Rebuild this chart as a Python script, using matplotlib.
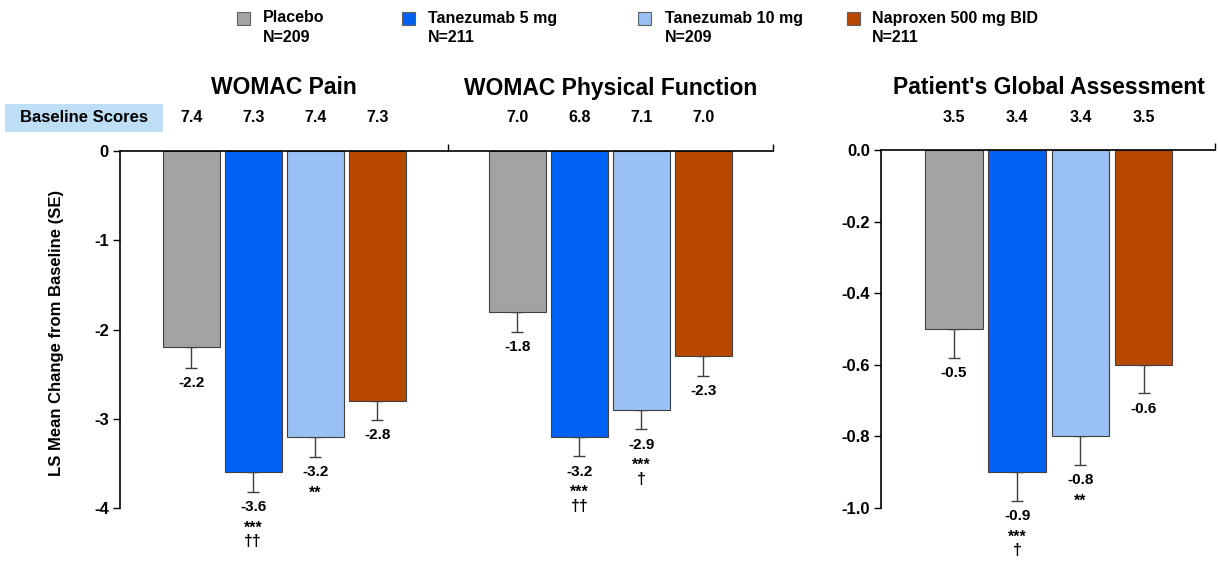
import numpy as np
import matplotlib
matplotlib.use("Agg")
import matplotlib.pyplot as plt
from matplotlib.patches import Rectangle

plt.rcParams['font.family'] = ['Liberation Sans', 'DejaVu Sans']
plt.rcParams['font.weight'] = 'bold'

# data
treatments = ['Placebo', 'Tanezumab 5 mg', 'Tanezumab 10 mg', 'Naproxen 500 mg BID']
n_patients = ['N=209', 'N=211', 'N=209', 'N=211']
colors = ['#A3A3A3', '#0062F5', '#99C1F5', '#B84800']

pain_mean = [-2.2, -3.6, -3.2, -2.8]
pain_se = [0.23, 0.22, 0.23, 0.21]
pain_base = ['7.4', '7.3', '7.4', '7.3']
pain_stars = ['', '***', '**', '']
pain_dagger = ['', '††', '', '']

pf_mean = [-1.8, -3.2, -2.9, -2.3]
pf_se = [0.23, 0.22, 0.22, 0.22]
pf_base = ['7.0', '6.8', '7.1', '7.0']
pf_stars = ['', '***', '***', '']
pf_dagger = ['', '††', '†', '']

pga_mean = [-0.5, -0.9, -0.8, -0.6]
pga_se = [0.08, 0.08, 0.08, 0.08]
pga_base = ['3.5', '3.4', '3.4', '3.5']
pga_stars = ['', '***', '**', '']
pga_dagger = ['', '†', '', '']

W, H = 1218, 561


def fx(px):
    return px / W


def fy(py):
    return 1 - py / H


fig = plt.figure(figsize=(W / 100, H / 100), dpi=100)

ax1 = fig.add_axes([fx(120), fy(508), fx(773 - 120), (508 - 151) / H])
ax2 = fig.add_axes([fx(881), fy(508), fx(1215 - 881), (508 - 150) / H])


def draw_group(ax, start, means, ses, base, stars, daggers, title):
    x = start + np.arange(len(means))
    ax.errorbar(x, means, yerr=[ses, np.zeros(len(ses))], fmt='none',
                ecolor='#404040', elinewidth=1, capsize=4, capthick=1, zorder=1)
    ax.bar(x, means, width=0.91, color=colors, edgecolor='#404040',
           linewidth=0.8, zorder=2)
    for xi, m, s, b, st, dg in zip(x, means, ses, base, stars, daggers):
        low = m - s
        ax.annotate(f'{m:.1f}', (xi, low), xytext=(0, -11), textcoords='offset points',
                    ha='center', va='center', fontsize=11)
        if st:
            ax.annotate(st, (xi, low), xytext=(0, -26), textcoords='offset points',
                        ha='center', va='center', fontsize=11.5)
        if dg:
            ax.annotate(dg, (xi, low), xytext=(0, -36), textcoords='offset points',
                        ha='center', va='center', fontsize=11.5)
        ax.annotate(b, (xi, fy(118)), xycoords=('data', 'figure fraction'),
                    ha='center', va='center', fontsize=11.5)
    ax.annotate(title, (x.mean(), fy(88)), xycoords=('data', 'figure fraction'),
                ha='center', va='center', fontsize=16.5)


draw_group(ax1, 1.15, pain_mean, pain_se, pain_base, pain_stars, pain_dagger, 'WOMAC Pain')
draw_group(ax1, 6.41, pf_mean, pf_se, pf_base, pf_stars, pf_dagger, 'WOMAC Physical Function')
draw_group(ax2, 1.15, pga_mean, pga_se, pga_base, pga_stars, pga_dagger,
           "Patient's Global Assessment")

ax1.set_xlim(0, 653 / 62)
ax1.set_ylim(-4, 0)
ax1.set_yticks([0, -1, -2, -3, -4])
ax1.set_yticklabels(['0', '-1', '-2', '-3', '-4'])
ax1.set_xticks([(448 - 120) / 62, 653 / 62])

ax2.set_xlim(0, 334 / 63.3)
ax2.set_ylim(-1.0, 0)
ax2.set_yticks([0, -0.2, -0.4, -0.6, -0.8, -1.0])
ax2.set_yticklabels(['0.0', '-0.2', '-0.4', '-0.6', '-0.8', '-1.0'])
ax2.set_xticks([334 / 63.3])

for ax in (ax1, ax2):
    ax.xaxis.tick_top()
    ax.set_xticklabels([])
    ax.spines['bottom'].set_visible(False)
    ax.spines['right'].set_visible(False)
    ax.spines['left'].set_linewidth(1.2)
    ax.spines['top'].set_linewidth(1.2)
    ax.tick_params(axis='y', direction='out', length=5, width=1, labelsize=12, pad=3)
    ax.tick_params(axis='x', direction='out', length=5, width=1)
    ax.patch.set_visible(False)

fig.text(fx(57), fy(333), 'LS Mean Change from Baseline (SE)', rotation=90,
         ha='center', va='center', fontsize=12)

# baseline label box
fig.patches.append(Rectangle((fx(5), fy(132)), fx(158), 28 / H, transform=fig.transFigure,
                             facecolor='#BDDEF5', edgecolor='none'))
fig.text(fx(84), fy(118), 'Baseline Scores', ha='center', va='center', fontsize=12)

# legend
sq_x = [237, 402, 638, 847]
txt_x = [263, 428, 665, 872]
for sx, tx, c, name, n in zip(sq_x, txt_x, colors, treatments, n_patients):
    fig.patches.append(Rectangle((fx(sx), fy(25)), fx(13), 13 / H, transform=fig.transFigure,
                                 facecolor=c, edgecolor='#606060', linewidth=0.8))
    fig.text(fx(tx), fy(18), name, ha='left', va='center', fontsize=11.5)
    fig.text(fx(tx), fy(38), n, ha='left', va='center', fontsize=11.5)

fig.savefig('out.png', dpi=100)
